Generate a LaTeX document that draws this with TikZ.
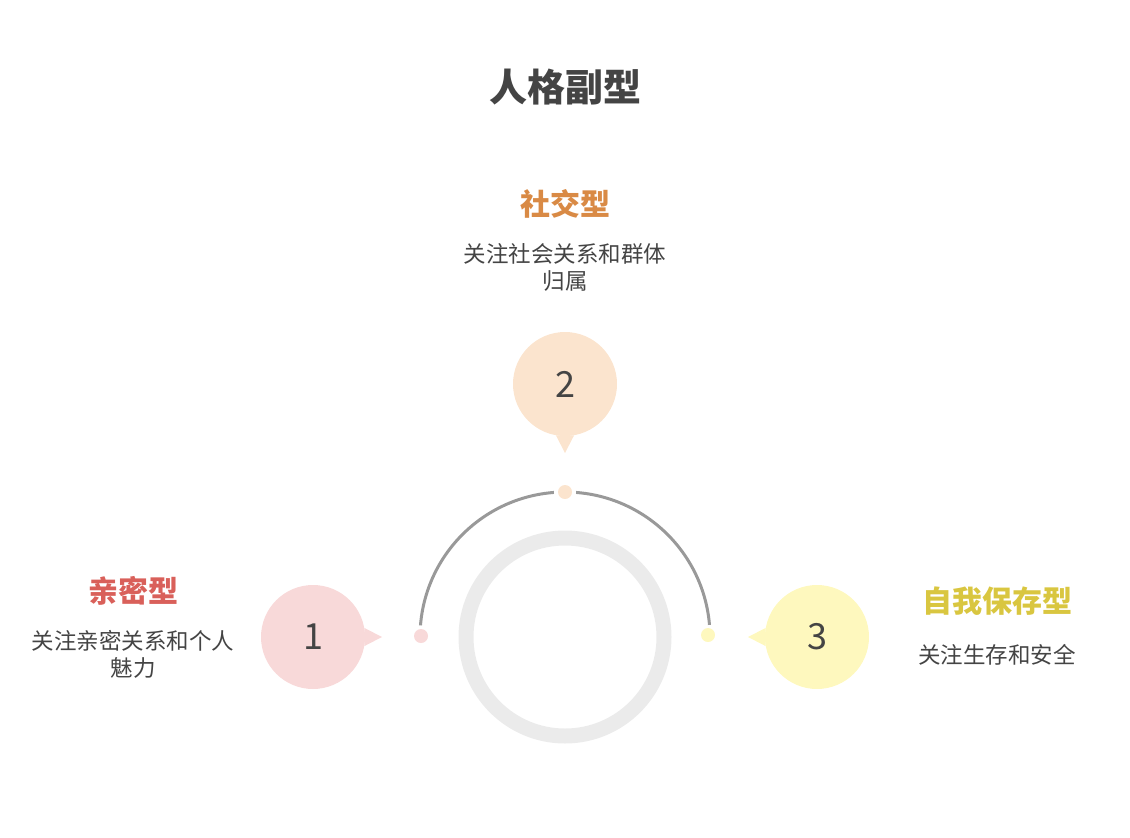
\documentclass[tikz,border=0pt]{standalone}
\usepackage{fontspec}
\setmainfont{Noto Sans CJK SC}
\usepackage{xcolor}
\usepackage{tikz}
\usetikzlibrary{positioning}

\definecolor{ink}{HTML}{444444}
\definecolor{ringgray}{HTML}{EBEBEB}
\definecolor{arcgray}{HTML}{999999}
\definecolor{pinkbg}{HTML}{F8D9D9}
\definecolor{peachbg}{HTML}{FBE4CE}
\definecolor{yellowbg}{HTML}{FEF8BE}
\definecolor{redtxt}{HTML}{D9605A}
\definecolor{orangetxt}{HTML}{D98A45}
\definecolor{yellowtxt}{HTML}{D9C640}

\begin{document}
\begin{tikzpicture}[x=1pt,y=-1pt,
  bubble/.style={circle,fill=#1,minimum size=104pt,inner sep=0pt,
  	font=\fontsize{36}{36}\selectfont,text=ink},
  dot/.style={circle,fill=#1,minimum size=14pt,inner sep=0pt},
  head/.style={font=\fontsize{30}{32}\selectfont\bfseries,text=#1},
  note/.style={font=\fontsize{22.5}{27}\selectfont,text=ink,align=center},
  arcline/.style={draw=arcgray,line width=3pt}]

  \useasboundingbox (0,0) rectangle (1130,838);

  \node[font=\fontsize{38}{38}\selectfont\bfseries,text=ink] (title) at (565,87) {人格副型};

  % ring and arc
  \coordinate (c) at (565,637);
  \draw[ringgray,line width=15pt] (c) circle[radius=99pt];
  \draw[arcline] ([shift={(175.4:145pt)}]c) arc[start angle=175.4,end angle=94.4,radius=145pt];
  \draw[arcline] ([shift={(85.6:145pt)}]c) arc[start angle=85.6,end angle=4.8,radius=145pt];

  \node[dot=pinkbg] (d1) at (421,636) {};
  \node[dot=peachbg] (d2) at (565,492) {};
  \node[dot=yellowbg] (d3) at (708,635) {};

  % bubbles
  \node[bubble=pinkbg] (b1) at (313,637) {1};
  \node[bubble=peachbg] (b2) at (565,384) {2};
  \node[bubble=yellowbg] (b3) at (817,637) {3};
  \coordinate (t1) at (382,637);
  \coordinate (t2) at (565,453);
  \coordinate (t3) at (748,637);
  \fill[pinkbg] (b1.-10) -- (t1) -- (b1.10) -- cycle;
  \fill[peachbg] (b2.-80) -- (t2) -- (b2.-100) -- cycle;
  \fill[yellowbg] (b3.170) -- (t3) -- (b3.190) -- cycle;

  % labels
  \node[head=redtxt] (h1) at (133,591) {亲密型};
  \node[note] (n1) at (133,654) {关注亲密关系和个人\\魅力};
  \node[head=orangetxt] (h2) at (565,204) {社交型};
  \node[note] (n2) at (565,267) {关注社会关系和群体\\归属};
  \node[head=yellowtxt] (h3) at (997,601) {自我保存型};
  \node[note] (n3) at (997,655) {关注生存和安全};
\end{tikzpicture}
\end{document}
